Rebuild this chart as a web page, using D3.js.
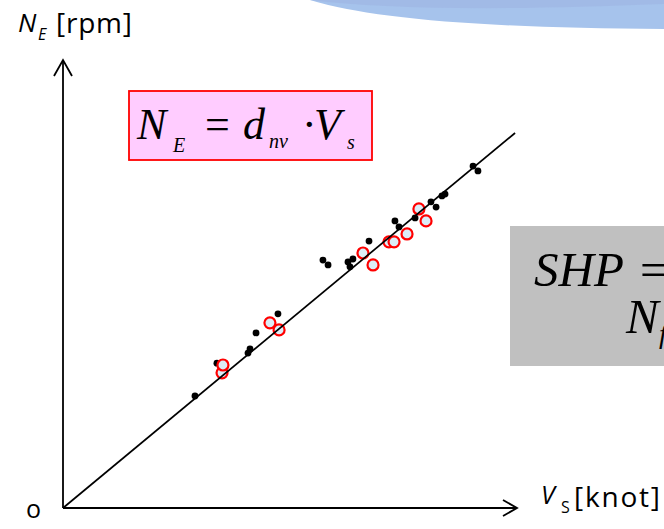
<!DOCTYPE html>
<html>
<head>
<meta charset="utf-8">
<script src="https://cdn.jsdelivr.net/npm/d3@7"></script>
<style>
  html, body { margin: 0; padding: 0; background: #fff; }
  svg { display: block; }
</style>
</head>
<body>
<script>
/** chart size */
const width = 664;
const height = 529;

/** data: ship speed Vs [knot] and engine speed NE [rpm] */
const dotVs = [7.22, 8.42, 10.12, 10.23, 10.56, 11.76, 14.22, 14.50, 15.59, 15.70, 15.86,
               16.74, 18.16, 18.38, 19.26, 20.13, 20.41, 20.73, 20.90, 22.43, 22.70];
const dotNE = [30.0, 38.8, 41.5, 42.6, 46.9, 52.0, 66.4, 65.1, 65.9, 64.6, 66.7,
               71.5, 76.9, 75.3, 77.7, 82.0, 80.6, 83.6, 84.1, 91.6, 90.3];
const ringVs = [8.70, 8.75, 11.32, 11.82, 16.41, 16.96, 17.83, 18.11, 18.82, 19.47, 19.86];
const ringNE = [36.2, 38.3, 49.6, 47.7, 68.3, 65.1, 71.3, 71.3, 73.4, 80.1, 76.9];
const dnv = 4.062;        // slope of the fitted line
const lineEndVs = 24.73;
const vsMax = 25, neMax = 120;

const svg = d3.select("body").append("svg")
    .attr("width", width)
    .attr("height", height);

const x = d3.scaleLinear().domain([0, vsMax]).range([63, 520]);
const y = d3.scaleLinear().domain([0, neMax]).range([508, 60]);

// blue swoosh at the top (slide decoration)
svg.append("path")
    .attr("d", "M310,0 Q400,28 664,29 L664,0 Z")
    .attr("fill", "#a6c3ec");
svg.append("path")
    .attr("d", "M310,0 Q420,14 664,4 L664,0 Z")
    .attr("fill", "#9fb6e4")
    .attr("opacity", 0.7);

// axes with open arrow heads
const ax = svg.append("g").attr("stroke", "#000").attr("stroke-width", 1.8).attr("fill", "none");
ax.append("line").attr("x1", x(0)).attr("y1", y(0)).attr("x2", x(0)).attr("y2", y(neMax));
ax.append("line").attr("x1", x(0)).attr("y1", y(0)).attr("x2", x(vsMax) - 3).attr("y2", y(0));
ax.append("path").attr("d", `M${x(0) - 9},${y(neMax) + 16} L${x(0)},${y(neMax)} L${x(0) + 9},${y(neMax) + 16}`);
ax.append("path").attr("d", `M${x(vsMax) - 17},${y(0) - 8} L${x(vsMax) - 3},${y(0)} L${x(vsMax) - 17},${y(0) + 8}`);

// points
const dots = dotVs.map((v, i) => ({ vs: v, ne: dotNE[i] }));
const rings = ringVs.map((v, i) => ({ vs: v, ne: ringNE[i] }));

svg.selectAll("circle.dot")
    .data(dots)
    .enter()
    .append("circle")
    .attr("class", "dot")
    .attr("cx", d => x(d.vs))
    .attr("cy", d => y(d.ne))
    .attr("r", 3.4)
    .attr("fill", "#000");

svg.selectAll("circle.ring")
    .data(rings)
    .enter()
    .append("circle")
    .attr("class", "ring")
    .attr("cx", d => x(d.vs))
    .attr("cy", d => y(d.ne))
    .attr("r", 5.5)
    .attr("fill", "#dcedf7")
    .attr("stroke", "#ff0000")
    .attr("stroke-width", 2.2);

// fitted line NE = dnv * Vs
svg.append("line")
    .attr("x1", x(0)).attr("y1", y(0))
    .attr("x2", x(lineEndVs)).attr("y2", y(dnv * lineEndVs))
    .attr("stroke", "#000")
    .attr("stroke-width", 1.7);

// axis labels
const sans = "'Open Sans', 'Noto Sans', sans-serif";
const lblY = svg.append("text").attr("font-family", sans).attr("font-size", 26).attr("fill", "#000");
lblY.append("tspan").attr("x", 18).attr("y", 32).attr("font-style", "italic").text("N");
lblY.append("tspan").attr("x", 38).attr("y", 40).attr("font-style", "italic").attr("font-size", 16).text("E");
svg.append("text").attr("x", 56).attr("y", 33)
    .attr("font-family", sans).attr("font-size", 28)
    .attr("textLength", 76).attr("lengthAdjust", "spacing")
    .text("[rpm]");

svg.append("text").attr("x", 26).attr("y", 518)
    .attr("font-family", sans).attr("font-size", 25).text("o");

const lblX = svg.append("text").attr("font-family", sans).attr("font-size", 25).attr("fill", "#000");
lblX.append("tspan").attr("x", 541).attr("y", 504).attr("font-style", "italic").text("V");
lblX.append("tspan").attr("x", 561).attr("y", 513).attr("font-size", 16).text("S");
svg.append("text").attr("x", 574).attr("y", 507)
    .attr("font-family", sans).attr("font-size", 28)
    .attr("textLength", 86).attr("lengthAdjust", "spacing")
    .text("[knot]");

// pink formula box
const serif = "'Liberation Serif', 'Times New Roman', serif";
svg.append("rect")
    .attr("x", 129).attr("y", 91).attr("width", 243).attr("height", 69)
    .attr("fill", "#ffccff").attr("stroke", "#ff0000").attr("stroke-width", 1.8);
const f = svg.append("text").attr("font-family", serif).attr("font-size", 44).attr("font-style", "italic");
f.append("tspan").attr("x", 137).attr("y", 139).text("N");
f.append("tspan").attr("x", 173).attr("y", 152).attr("font-size", 20).text("E");
f.append("tspan").attr("x", 205).attr("y", 139).attr("font-style", "normal").text("=");
f.append("tspan").attr("x", 243).attr("y", 139).text("d");
f.append("tspan").attr("x", 269).attr("y", 148).attr("font-size", 20).text("nv");
f.append("tspan").attr("x", 302).attr("y", 139).attr("font-style", "normal").text("\u00b7");
f.append("tspan").attr("x", 314).attr("y", 139).text("V");
f.append("tspan").attr("x", 347).attr("y", 149).attr("font-size", 20).text("s");

// grey box (cut off at the right edge)
svg.append("rect")
    .attr("x", 510).attr("y", 226).attr("width", 170).attr("height", 140)
    .attr("fill", "#c0c0c0");
const g = svg.append("text").attr("font-family", serif).attr("font-size", 49).attr("font-style", "italic").attr("fill", "#000");
g.append("tspan").attr("x", 534).attr("y", 286).text("SHP");
g.append("tspan").attr("x", 640).attr("y", 286).attr("font-style", "normal").text("=");
const g2 = svg.append("text").attr("font-family", serif).attr("font-size", 49).attr("font-style", "italic").attr("fill", "#000");
g2.append("tspan").attr("x", 626).attr("y", 333).text("N");
g2.append("tspan").attr("x", 659).attr("y", 343).attr("font-size", 28).text("f");
</script>
</body>
</html>
